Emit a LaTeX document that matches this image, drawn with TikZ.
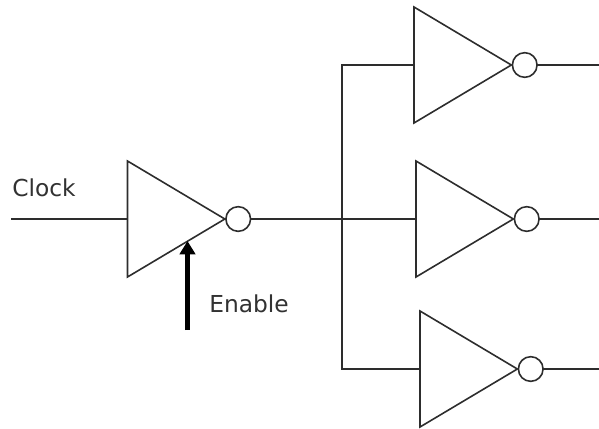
\documentclass[tikz,border=0pt]{standalone}
\usepackage{fontspec}
\setmainfont{DejaVu Sans}
\usepackage{xcolor}
\usetikzlibrary{arrows.meta,shapes.geometric,positioning}
\definecolor{wirecol}{RGB}{45,45,45}
\definecolor{textcol}{RGB}{50,50,50}
\tikzset{
    wire/.style={draw=wirecol, line width=1.2pt},
    gate/.style={isosceles triangle, isosceles triangle stretches, wire, minimum width=87pt, minimum height=73pt, inner sep=0pt, outer sep=0pt, anchor=lower side},
    bubble/.style={circle, wire, minimum size=18.5pt, inner sep=0pt, outer sep=0pt},
    lbl/.style={font=\fontsize{17.5}{20}\selectfont, text=textcol, inner sep=0pt, anchor=base west}
}

\begin{document}
\begin{tikzpicture}[x=0.75pt, y=-0.75pt]
    \useasboundingbox (0,0) rectangle (599,428);

    % Gates
    \node[gate] (clkgate) at (127.5,219) {};
    \node[gate] (topgate) at (414,65) {};
    \node[gate] (midgate) at (416,219) {};
    \node[gate] (lowgate) at (420,369) {};

    % Bubbles
    \node[bubble, right=0.8pt of clkgate.apex] (clkbubble) {};
    \node[bubble, right=0.8pt of topgate.apex] (topbubble) {};
    \node[bubble, right=0.8pt of midgate.apex] (midbubble) {};
    \node[bubble, right=0.8pt of lowgate.apex] (lowbubble) {};

    % Wire ends
    \coordinate (clkin) at (11,219);
    \coordinate (busjoint) at (342,219);
    \coordinate (topout) at (599,65);
    \coordinate (midout) at (599,219);
    \coordinate (lowout) at (599,369);
    \coordinate (enablefoot) at (187.5,330);
    \coordinate (enabletip) at (187.5,241);

    % Wires
    \draw[wire] (clkin) -- (clkgate.lower side);
    \draw[wire] (clkbubble.east) -- (midgate.lower side);
    \draw[wire] (topgate.lower side) -| (busjoint) |- (lowgate.lower side);
    \draw[wire] (topbubble.east) -- (topout);
    \draw[wire] (midbubble.east) -- (midout);
    \draw[wire] (lowbubble.east) -- (lowout);

    % Enable arrow
    \draw[-{Triangle[width=11.5pt,length=10pt]}, line width=3.8pt, black] (enablefoot) -- (enabletip);

    % Labels
    \node[lbl] (clocklabel) at (12,196) {Clock};
    \node[lbl] (enablelabel) at (209,312) {Enable};
\end{tikzpicture}
\end{document}
